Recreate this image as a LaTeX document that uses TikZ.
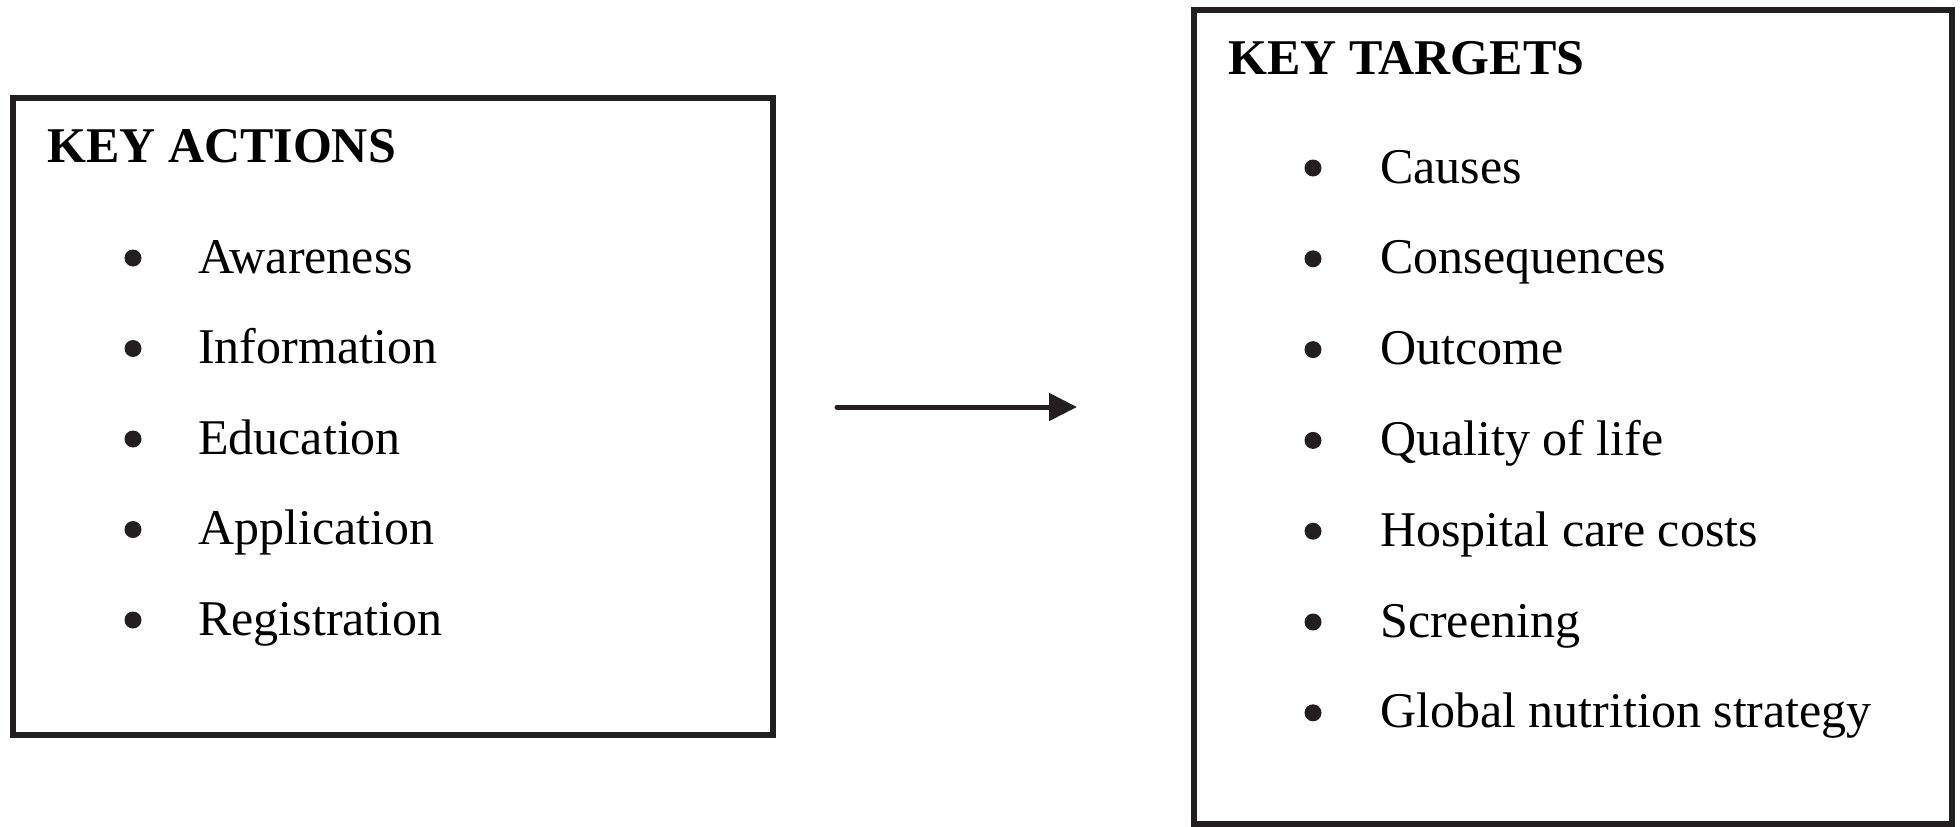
\documentclass[tikz,border=0pt]{standalone}
\usepackage{fontspec}
\setmainfont{Liberation Serif}
\usetikzlibrary{arrows.meta}
\definecolor{ink}{HTML}{231F20}
\tikzset{
  panel/.style={draw=ink, line width=5.5pt, inner sep=0pt, outer sep=0pt},
  heading/.style={anchor=base west, inner sep=0pt, font=\fontsize{50}{60}\selectfont\bfseries},
  entry/.style={anchor=base west, inner sep=0pt, font=\fontsize{50}{60}\selectfont},
  dot/.style={circle, fill=ink, inner sep=0pt, minimum size=17pt},
  flow/.style={draw=ink, line width=5pt, line cap=round, -{Triangle[length=28pt,width=27pt]}}
}
\begin{document}
\begin{tikzpicture}[x=1pt, y=-1pt]
\useasboundingbox (0,0) rectangle (1960,827);

% left panel: actions
\node[panel, minimum width=760pt, minimum height=637pt] (actions) at (393,416.5) {};
\node[heading] (actT) at (47,162) {KEY ACTIONS};
\foreach \t [count=\i from 0] in {Awareness,Information,Education,Application,Registration}{
  \node[dot] (actB\i) at (133,{258+90.5*\i}) {};
  \node[entry] (actE\i) at (198,{273+90.5*\i}) {\t};
}

% right panel: targets
\node[panel, minimum width=758pt, minimum height=814pt] (targets) at (1573,417) {};
\node[heading] (tgtT) at (1228,74) {KEY TARGETS};
\foreach \t [count=\i from 0] in {Causes,Consequences,Outcome,Quality of life,Hospital care costs,Screening,Global nutrition strategy}{
  \node[dot] (tgtB\i) at (1313,{168+90.8*\i}) {};
  \node[entry] (tgtE\i) at (1380,{183+90.8*\i}) {\t};
}

% connector between the panels
\coordinate (flowA) at (837,407);
\coordinate (flowB) at (1077,407);
\draw[flow] (flowA) -- (flowB);
\end{tikzpicture}
\end{document}
